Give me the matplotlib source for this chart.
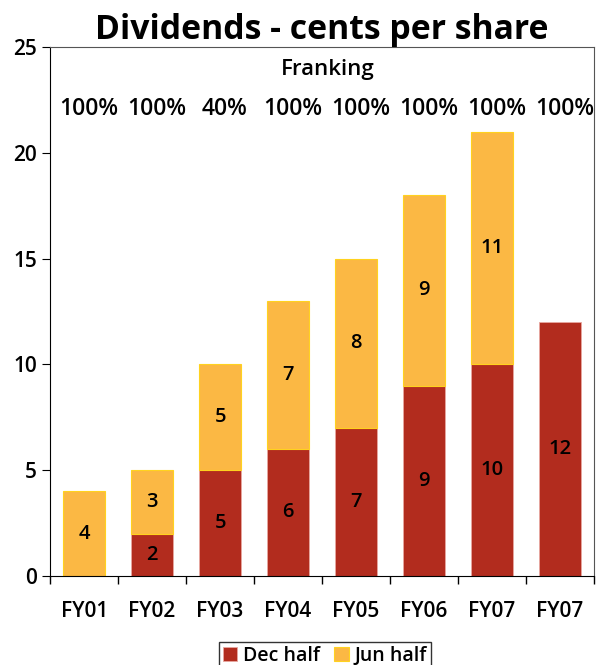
import matplotlib
matplotlib.use("Agg")
import matplotlib.pyplot as plt
import numpy as np

# data
years = ["FY01", "FY02", "FY03", "FY04", "FY05", "FY06", "FY07", "FY07"]
dec_half = [0, 2, 5, 6, 7, 9, 10, 12]
jun_half = [4, 3, 5, 7, 8, 9, 11, 0]
franking = ["100%", "100%", "40%", "100%", "100%", "100%", "100%", "100%"]

DEC_COL = "#B22C1E"
JUN_COL = "#FBB844"

plt.rcParams.update({"font.family": ["Open Sans", "DejaVu Sans"], "font.size": 12,
                     "font.weight": "semibold"})

fig = plt.figure(figsize=(5.97, 6.65), dpi=100)
ax = fig.add_axes([0.084, 0.134, 0.911, 0.795])

x = np.arange(len(years))
w = 0.61
dec = np.array(dec_half, dtype=float)
jun = np.array(jun_half, dtype=float)
m = dec > 0
ax.bar(x[m], dec[m], w, color=DEC_COL, edgecolor="#E8A8A0", lw=0.6, label="Dec half")
m = jun > 0
ax.bar(x[m], jun[m], w, bottom=dec[m], color=JUN_COL, edgecolor="#FFD21F",
       lw=0.8, label="Jun half")

for i in range(len(years)):
    if dec_half[i]:
        ax.text(x[i], dec_half[i] / 2, str(dec_half[i]), ha="center", va="center",
                fontsize=14.5)
    if jun_half[i]:
        ax.text(x[i], dec_half[i] + jun_half[i] / 2, str(jun_half[i]),
                ha="center", va="center", fontsize=14.5)
    ax.text(x[i] + 0.07, 22.1, franking[i], ha="center", va="center", fontsize=16.5)
ax.text(0.51, 0.958, "Franking", transform=ax.transAxes, ha="center", va="center",
        fontsize=16)

ax.set_xlim(-0.5, len(years) - 0.5)
ax.set_ylim(0, 25)
ax.set_yticks(range(0, 26, 5))
ax.set_xticks(x)
ax.set_xticklabels(years, fontsize=15)
ax.set_xticks(np.arange(-0.5, len(years)), minor=True)
ax.tick_params(axis="x", which="major", length=0, pad=18)
ax.tick_params(axis="x", which="minor", length=6, width=1, direction="out")
ax.tick_params(axis="y", length=6, labelsize=15)
for s in ["top", "right"]:
    ax.spines[s].set_color("#555555")
ax.set_title("Dividends - cents per share", fontsize=24.3, fontweight="bold", pad=3)

ax.legend(loc="lower center", bbox_to_anchor=(0.505, -0.178), ncol=2,
          frameon=True, fancybox=False, edgecolor="black", fontsize=14,
          handlelength=0.75, handleheight=0.75, handletextpad=0.3,
          columnspacing=0.7, borderpad=0.2, borderaxespad=0)

fig.savefig("out.png", dpi=100)
